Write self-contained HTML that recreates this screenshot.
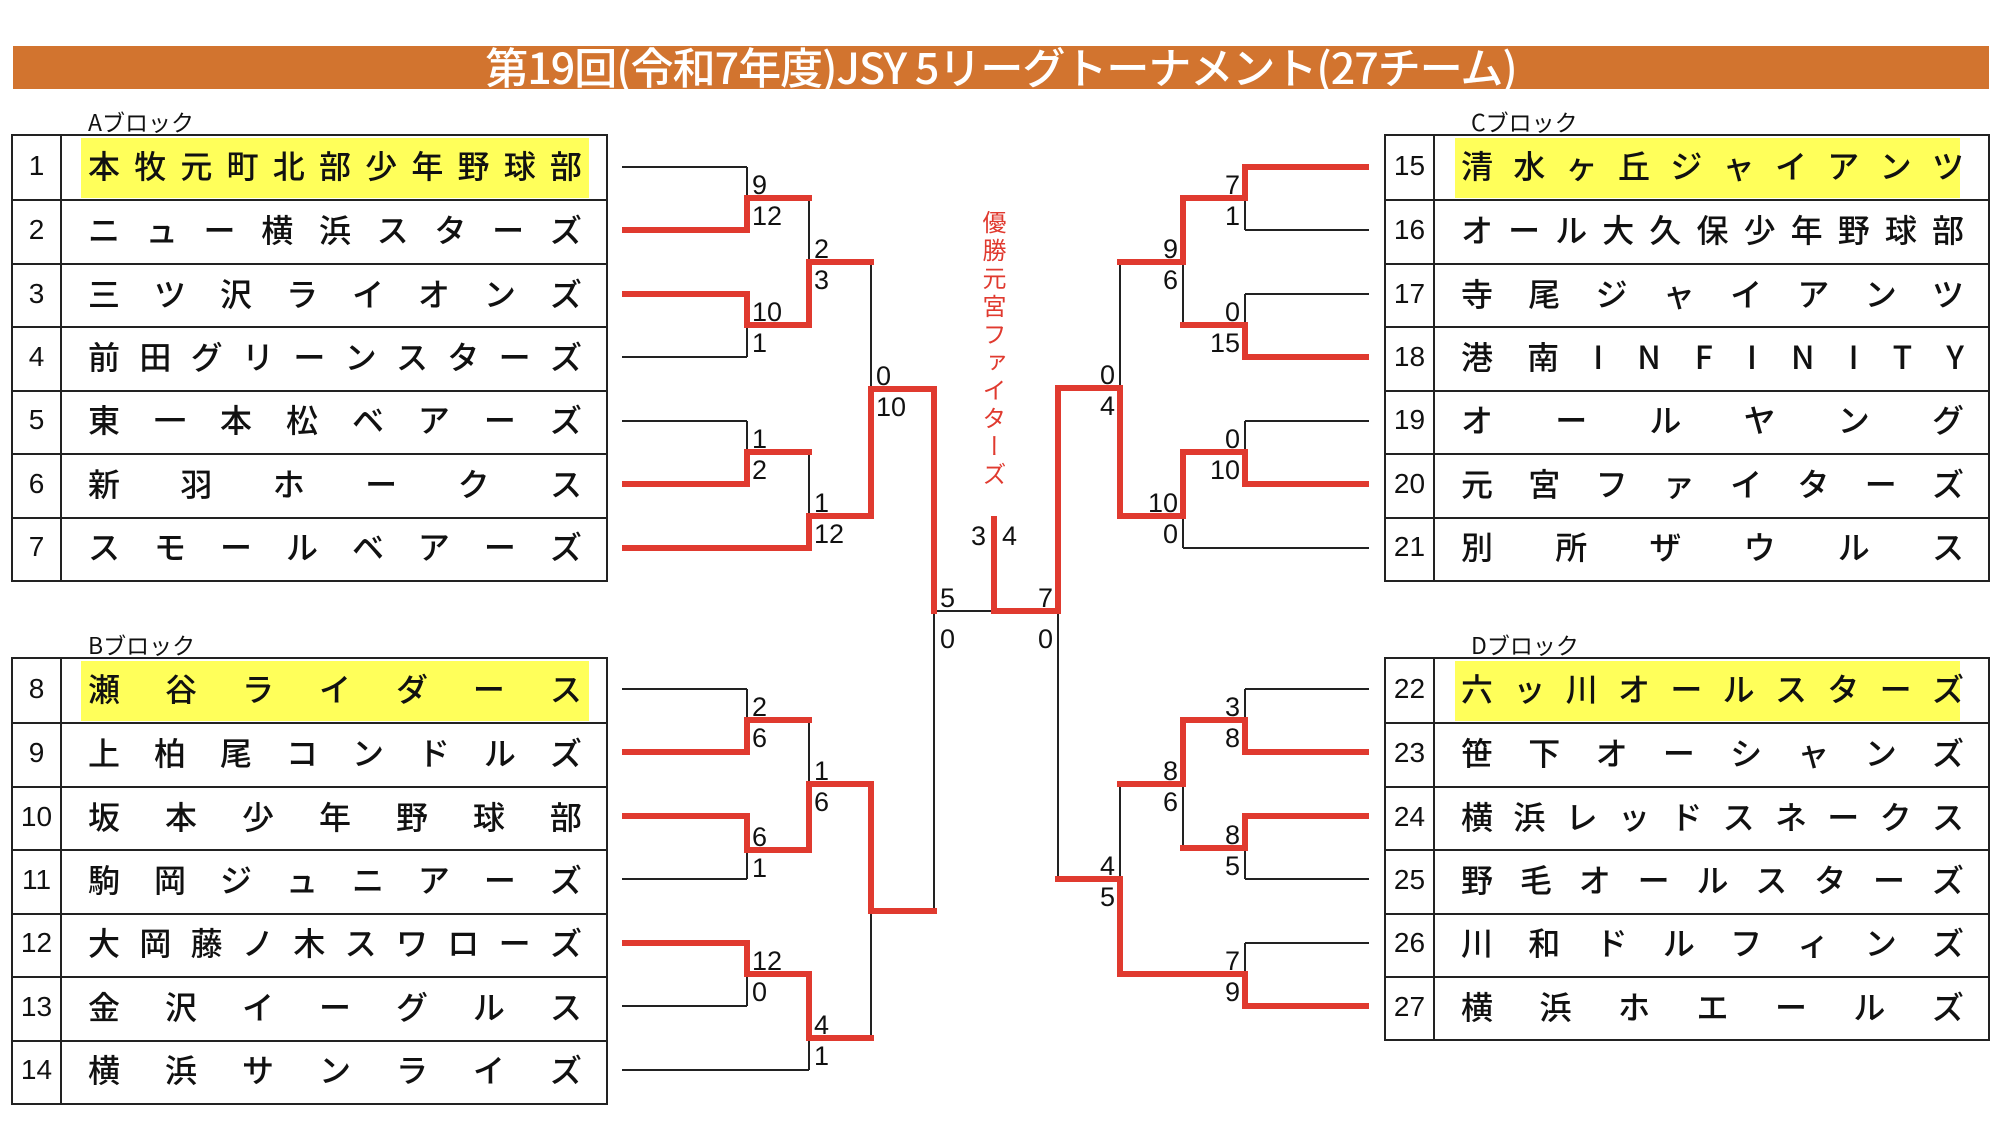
<!DOCTYPE html>
<html><head><meta charset="utf-8">
<style>
*{margin:0;padding:0;box-sizing:border-box}
body{width:2016px;height:1131px;background:#fff;position:relative;overflow:hidden;font-family:"Liberation Sans","Noto Sans CJK JP",sans-serif;color:#111}
.bar{position:absolute;left:13px;top:46px;width:1976px;height:43px;background:#d2742f}
.title{position:absolute;left:13px;top:41px;width:1976px;text-align:center;color:#fff;font-size:43px;font-weight:500;line-height:50px;font-family:"Noto Sans CJK JP",sans-serif;letter-spacing:-1px}
.lbl{position:absolute;font-size:23px;line-height:24px;font-family:"Noto Sans CJK JP",sans-serif}
.tbl{position:absolute;border:2px solid #222}
.row{display:flex;height:63.43px;border-top:2px solid #222}
.row:first-child{border-top:none}
.num{width:49px;border-right:2px solid #222;display:flex;align-items:center;justify-content:center;font-size:28px;padding-bottom:4px;font-family:"Liberation Sans",sans-serif}
.nm{flex:1;display:flex;align-items:center;justify-content:space-between;font-size:32px;font-weight:500;font-family:"Noto Sans CJK JP",sans-serif;padding:0 24px 6px 26px}
.vt{position:absolute;left:981px;top:210px;writing-mode:vertical-rl;font-size:24px;line-height:26px;color:#e03a2f;font-family:"Noto Sans CJK JP",sans-serif;letter-spacing:4px}
svg{position:absolute;left:0;top:0}
</style></head><body>
<div class="bar"></div>
<div class="title">第19回(令和7年度)JSY 5リーグトーナメント(27チーム)</div>

<div class="lbl" style="left:88px;top:109px">Aブロック</div>
<div class="lbl" style="left:88px;top:632px">Bブロック</div>
<div class="lbl" style="left:1471px;top:109px">Cブロック</div>
<div class="lbl" style="left:1471px;top:632px">Dブロック</div>

<div class="tbl" style="left:11px;top:134px;width:597px;height:448px">
<div class="row"><div class="num">1</div><div class="nm" style="background:linear-gradient(#ffff5a,#ffff5a) 19px 2px/508px 60px no-repeat"><span>本</span><span>牧</span><span>元</span><span>町</span><span>北</span><span>部</span><span>少</span><span>年</span><span>野</span><span>球</span><span>部</span></div></div>
<div class="row"><div class="num">2</div><div class="nm"><span>ニ</span><span>ュ</span><span>ー</span><span>横</span><span>浜</span><span>ス</span><span>タ</span><span>ー</span><span>ズ</span></div></div>
<div class="row"><div class="num">3</div><div class="nm"><span>三</span><span>ツ</span><span>沢</span><span>ラ</span><span>イ</span><span>オ</span><span>ン</span><span>ズ</span></div></div>
<div class="row"><div class="num">4</div><div class="nm"><span>前</span><span>田</span><span>グ</span><span>リ</span><span>ー</span><span>ン</span><span>ス</span><span>タ</span><span>ー</span><span>ズ</span></div></div>
<div class="row"><div class="num">5</div><div class="nm"><span>東</span><span>一</span><span>本</span><span>松</span><span>ベ</span><span>ア</span><span>ー</span><span>ズ</span></div></div>
<div class="row"><div class="num">6</div><div class="nm"><span>新</span><span>羽</span><span>ホ</span><span>ー</span><span>ク</span><span>ス</span></div></div>
<div class="row"><div class="num">7</div><div class="nm"><span>ス</span><span>モ</span><span>ー</span><span>ル</span><span>ベ</span><span>ア</span><span>ー</span><span>ズ</span></div></div>
</div>

<div class="tbl" style="left:11px;top:657px;width:597px;height:448px">
<div class="row"><div class="num">8</div><div class="nm" style="background:linear-gradient(#ffff5a,#ffff5a) 19px 2px/508px 60px no-repeat"><span>瀬</span><span>谷</span><span>ラ</span><span>イ</span><span>ダ</span><span>ー</span><span>ス</span></div></div>
<div class="row"><div class="num">9</div><div class="nm"><span>上</span><span>柏</span><span>尾</span><span>コ</span><span>ン</span><span>ド</span><span>ル</span><span>ズ</span></div></div>
<div class="row"><div class="num">10</div><div class="nm"><span>坂</span><span>本</span><span>少</span><span>年</span><span>野</span><span>球</span><span>部</span></div></div>
<div class="row"><div class="num">11</div><div class="nm"><span>駒</span><span>岡</span><span>ジ</span><span>ュ</span><span>ニ</span><span>ア</span><span>ー</span><span>ズ</span></div></div>
<div class="row"><div class="num">12</div><div class="nm"><span>大</span><span>岡</span><span>藤</span><span>ノ</span><span>木</span><span>ス</span><span>ワ</span><span>ロ</span><span>ー</span><span>ズ</span></div></div>
<div class="row"><div class="num">13</div><div class="nm"><span>金</span><span>沢</span><span>イ</span><span>ー</span><span>グ</span><span>ル</span><span>ス</span></div></div>
<div class="row"><div class="num">14</div><div class="nm"><span>横</span><span>浜</span><span>サ</span><span>ン</span><span>ラ</span><span>イ</span><span>ズ</span></div></div>
</div>

<div class="tbl" style="left:1384px;top:134px;width:606px;height:448px">
<div class="row"><div class="num">15</div><div class="nm" style="background:linear-gradient(#ffff5a,#ffff5a) 20px 2px/505px 60px no-repeat"><span>清</span><span>水</span><span>ヶ</span><span>丘</span><span>ジ</span><span>ャ</span><span>イ</span><span>ア</span><span>ン</span><span>ツ</span></div></div>
<div class="row"><div class="num">16</div><div class="nm"><span>オ</span><span>ー</span><span>ル</span><span>大</span><span>久</span><span>保</span><span>少</span><span>年</span><span>野</span><span>球</span><span>部</span></div></div>
<div class="row"><div class="num">17</div><div class="nm"><span>寺</span><span>尾</span><span>ジ</span><span>ャ</span><span>イ</span><span>ア</span><span>ン</span><span>ツ</span></div></div>
<div class="row"><div class="num">18</div><div class="nm"><span>港</span><span>南</span><span>I</span><span>N</span><span>F</span><span>I</span><span>N</span><span>I</span><span>T</span><span>Y</span></div></div>
<div class="row"><div class="num">19</div><div class="nm"><span>オ</span><span>ー</span><span>ル</span><span>ヤ</span><span>ン</span><span>グ</span></div></div>
<div class="row"><div class="num">20</div><div class="nm"><span>元</span><span>宮</span><span>フ</span><span>ァ</span><span>イ</span><span>タ</span><span>ー</span><span>ズ</span></div></div>
<div class="row"><div class="num">21</div><div class="nm"><span>別</span><span>所</span><span>ザ</span><span>ウ</span><span>ル</span><span>ス</span></div></div>
</div>

<div class="tbl" style="left:1384px;top:657px;width:606px;height:384px">
<div class="row"><div class="num">22</div><div class="nm" style="background:linear-gradient(#ffff5a,#ffff5a) 20px 2px/505px 60px no-repeat"><span>六</span><span>ッ</span><span>川</span><span>オ</span><span>ー</span><span>ル</span><span>ス</span><span>タ</span><span>ー</span><span>ズ</span></div></div>
<div class="row"><div class="num">23</div><div class="nm"><span>笹</span><span>下</span><span>オ</span><span>ー</span><span>シ</span><span>ャ</span><span>ン</span><span>ズ</span></div></div>
<div class="row"><div class="num">24</div><div class="nm"><span>横</span><span>浜</span><span>レ</span><span>ッ</span><span>ド</span><span>ス</span><span>ネ</span><span>ー</span><span>ク</span><span>ス</span></div></div>
<div class="row"><div class="num">25</div><div class="nm"><span>野</span><span>毛</span><span>オ</span><span>ー</span><span>ル</span><span>ス</span><span>タ</span><span>ー</span><span>ズ</span></div></div>
<div class="row"><div class="num">26</div><div class="nm"><span>川</span><span>和</span><span>ド</span><span>ル</span><span>フ</span><span>ィ</span><span>ン</span><span>ズ</span></div></div>
<div class="row"><div class="num">27</div><div class="nm"><span>横</span><span>浜</span><span>ホ</span><span>エ</span><span>ー</span><span>ル</span><span>ズ</span></div></div>
</div>

<div class="vt">優勝元宮ファイターズ</div>

<svg width="2016" height="1131" viewBox="0 0 2016 1131">
<g stroke="#222" stroke-width="2" fill="none">
<path d="M622 167H747M622 230H747M622 294H747M622 357H747M622 421H747M622 484H747M622 548H809
M622 689H747M622 752H747M622 816H747M622 879H747M622 943H747M622 1006H747M622 1070H809
M747 167V230M747 294V357M747 421V484M747 689V752M747 816V879M747 943V1006
M747 198H809M747 325H809M747 452H809M747 720H809M747 850H809M747 974H809
M809 198V325M809 452V548M809 720V850M809 974V1070
M809 262H871M809 516H871M809 784H871M809 1038H871
M871 262V516M871 784V1038M871 389H934M871 911H934M934 389V911M934 611H1058
M1369 167H1245M1369 230H1245M1369 294H1245M1369 357H1245M1369 421H1245M1369 484H1245M1369 548H1183
M1369 689H1245M1369 752H1245M1369 816H1245M1369 879H1245M1369 943H1245M1369 1006H1245
M1245 167V230M1245 294V357M1245 421V484M1245 689V752M1245 816V879M1245 943V1006
M1245 198H1183M1245 325H1183M1245 452H1183M1245 720H1183M1245 848H1183M1245 974H1120
M1183 198V325M1183 452V548M1183 720V848
M1183 262H1120M1183 516H1120M1183 784H1120
M1120 262V516M1120 784V974M1120 388H1058M1120 879H1058M1058 388V879"/>
</g>
<g stroke="#e03a2f" stroke-width="6" fill="none" stroke-linejoin="miter" stroke-linecap="square">
<path d="M625 230H747V198H809"/>
<path d="M625 294H747V325H809V262H871"/>
<path d="M625 484H747V452H809"/>
<path d="M625 548H809V516H871V389H934V611"/>
<path d="M625 752H747V720H809"/>
<path d="M625 816H747V850H809V784H871V911H934"/>
<path d="M625 943H747V974H809V1038H871"/>
<path d="M1366 167H1245V198H1183V262H1120"/>
<path d="M1366 357H1245V325H1183"/>
<path d="M1366 484H1245V452H1183V516H1120V388H1058V611H994V519"/>
<path d="M1366 752H1245V720H1183V784H1120"/>
<path d="M1366 816H1245V848H1183"/>
<path d="M1366 1006H1245V974H1120V879H1058"/>
</g>
<g font-family="Liberation Sans, sans-serif" font-size="27" fill="#111">
<text x="752" y="194">9</text><text x="752" y="225">12</text>
<text x="752" y="321">10</text><text x="752" y="352">1</text>
<text x="752" y="448">1</text><text x="752" y="479">2</text>
<text x="752" y="716">2</text><text x="752" y="747">6</text>
<text x="752" y="846">6</text><text x="752" y="877">1</text>
<text x="752" y="970">12</text><text x="752" y="1001">0</text>
<text x="814" y="258">2</text><text x="814" y="289">3</text>
<text x="814" y="512">1</text><text x="814" y="543">12</text>
<text x="814" y="780">1</text><text x="814" y="811">6</text>
<text x="814" y="1034">4</text><text x="814" y="1065">1</text>
<text x="876" y="385">0</text><text x="876" y="416">10</text>
<text x="940" y="607">5</text><text x="940" y="648">0</text>
<text x="986" y="545" text-anchor="end">3</text><text x="1002" y="545">4</text>
<g text-anchor="end">
<text x="1053" y="607">7</text><text x="1053" y="648">0</text>
<text x="1115" y="384">0</text><text x="1115" y="415">4</text>
<text x="1115" y="875">4</text><text x="1115" y="906">5</text>
<text x="1178" y="258">9</text><text x="1178" y="289">6</text>
<text x="1178" y="512">10</text><text x="1178" y="543">0</text>
<text x="1178" y="780">8</text><text x="1178" y="811">6</text>
<text x="1240" y="194">7</text><text x="1240" y="225">1</text>
<text x="1240" y="321">0</text><text x="1240" y="352">15</text>
<text x="1240" y="448">0</text><text x="1240" y="479">10</text>
<text x="1240" y="716">3</text><text x="1240" y="747">8</text>
<text x="1240" y="844">8</text><text x="1240" y="875">5</text>
<text x="1240" y="970">7</text><text x="1240" y="1001">9</text>
</g>
</g>
</svg>
</body></html>
